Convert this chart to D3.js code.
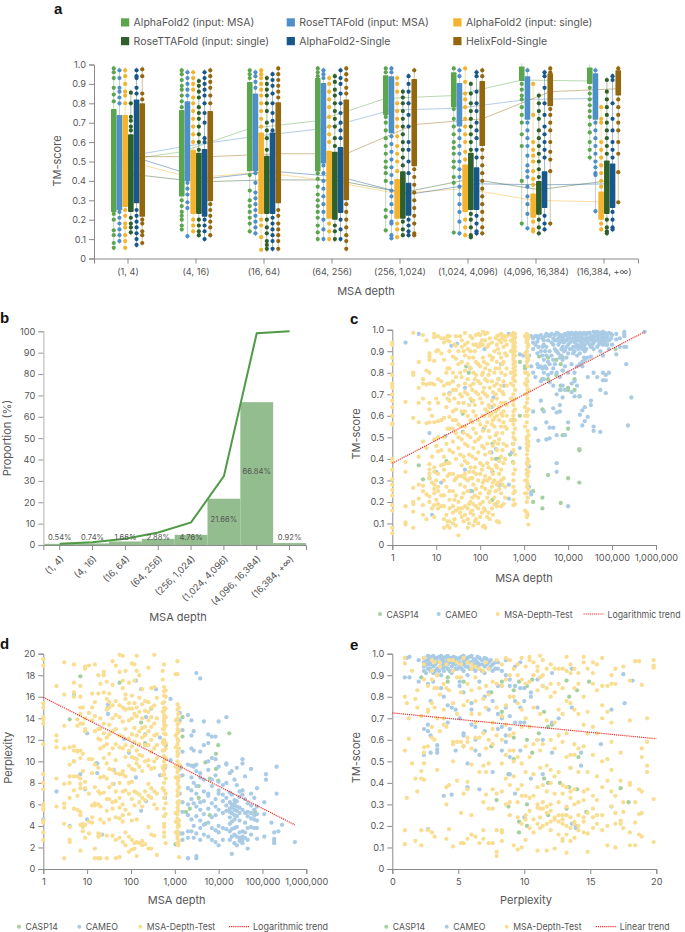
<!DOCTYPE html>
<html><head><meta charset="utf-8">
<script src="https://cdn.jsdelivr.net/npm/d3@7"></script>
<style>
html,body{margin:0;padding:0;background:#fff}
svg{display:block}
text{font-family:Inter,"Noto Sans",sans-serif;fill:#555}
.tick text{font-size:9.2px}
.title{font-size:11px}
.legend{font-size:9.6px}
.letter{font-family:"Liberation Sans",sans-serif;font-weight:700;font-size:15px;fill:#111}
</style></head><body><svg id="c" width="685" height="932"></svg>
<script>
// ---------- panel a ----------
const depthBins=["(1, 4)","(4, 16)","(16, 64)","(64, 256)","(256, 1,024)","(1,024, 4,096)","(4,096, 16,384)","(16,384, +∞)"];
const methods=["AlphaFold2 (input: MSA)","RoseTTAFold (input: MSA)","AlphaFold2 (input: single)","RoseTTAFold (input: single)","AlphaFold2-Single","HelixFold-Single"];
const methodColors=["#5ba54e","#4d8fca","#f4b32c","#2f5f2a","#16578c","#94670f"];
const q1=[[.24,.32,.45,.45,.74,.78,.915,.90],[.25,.40,.45,.49,.645,.68,.715,.715],[.265,.23,.23,.205,.205,.24,.21,.20],[.24,.23,.23,.20,.205,.25,.225,.23],[.285,.215,.23,.235,.22,.25,.26,.26],[.215,.295,.285,.30,.475,.58,.785,.84]];
const q3=[[.77,.765,.91,.93,.945,.96,.99,.985],[.74,.81,.85,.905,.94,.905,.94,.955],[.74,.56,.65,.555,.41,.485,.335,.345],[.64,.545,.53,.55,.45,.545,.40,.505],[.82,.565,.65,.575,.39,.47,.45,.49],[.80,.76,.805,.82,.925,.915,.955,.97]];
const means=[[.50,.55,.67,.71,.825,.84,.92,.915],[.52,.58,.63,.67,.765,.775,.82,.825],[.505,.415,.445,.40,.335,.36,.30,.292],[.435,.395,.405,.405,.34,.41,.355,.40],[.52,.41,.45,.42,.33,.385,.38,.385],[.525,.525,.54,.54,.69,.72,.86,.875]];
const dots0=[[.98,.96,.93,.88,.845,.81,.23,.2,.145,.12,.08,.055],[.97,.95,.92,.89,.87,.84,.81,.78,.3,.27,.24,.22,.2,.17,.15],[.97,.95,.93,.43,.35,.3,.27,.24,.21,.18,.14],[.98,.96,.94,.44,.41,.37,.33,.3,.27,.24,.21,.17,.135,.1],[.98,.96,.73,.7,.66,.62,.58,.54,.5,.47,.44,.4,.25,.215,.145],[.98,.77,.72,.68,.64,.6,.57,.54,.5,.47,.42,.39,.134],[.9,.87,.84,.82,.78,.74,.7,.64,.58,.4,.18],[.88,.85,.82,.79,.76,.73,.69,.65,.6,.56,.52]];
const dots1=[[.97,.93,.88,.86,.83,.8,.24,.21,.18,.15,.12,.09],[.96,.93,.9,.87,.84,.39,.36,.33,.29,.26,.115],[.96,.94,.91,.88,.44,.39,.34,.31,.28,.25,.22,.19,.16,.13],[.97,.95,.93,.48,.44,.4,.36,.32,.28,.24,.2,.15,.1],[.98,.96,.63,.59,.55,.51,.47,.43,.39,.35,.32,.28,.24,.19,.18,.12,.105],[.97,.94,.66,.62,.58,.54,.5,.46,.42,.37,.33,.28,.24,.19,.13],[.97,.7,.66,.62,.58,.53,.48,.45,.42,.37,.32,.28,.23,.156],[.97,.7,.66,.62,.58,.54,.5,.47,.44,.43,.244]];
const dots2=[[.97,.94,.9,.86,.84,.8,.25,.22,.18,.16,.12,.09,.055],[.96,.93,.9,.87,.83,.8,.76,.72,.68,.64,.6,.2,.17,.14],[.97,.95,.93,.9,.87,.84,.8,.76,.72,.68,.2,.17,.11,.045],[.93,.9,.86,.82,.78,.73,.68,.64,.6,.18,.14,.1],[.93,.9,.86,.8,.76,.72,.68,.63,.58,.54,.5,.45,.18,.15,.11],[.98,.91,.85,.82,.78,.72,.68,.64,.6,.55,.51,.2,.16,.12],[.9,.74,.6,.56,.53,.5,.45,.41,.38,.19,.15,.14],[.78,.72,.7,.6,.56,.52,.48,.44,.4,.37,.18,.15]];
const dots3=[[.855,.8,.73,.71,.68,.66,.21,.18,.16,.135],[.915,.89,.86,.83,.78,.75,.72,.68,.64,.6,.56,.2,.17,.14,.12],[.93,.9,.87,.84,.8,.76,.7,.66,.62,.56,.2,.16,.13,.09,.07,.05],[.94,.91,.87,.84,.8,.76,.72,.68,.62,.58,.17,.14,.1],[.86,.83,.8,.76,.72,.68,.64,.6,.56,.52,.48,.19,.15,.12],[.9,.85,.8,.76,.72,.68,.64,.6,.56,.23,.2,.16,.12,.11],[.84,.8,.76,.72,.66,.62,.58,.54,.5,.46,.42,.2,.16,.13],[.92,.86,.82,.78,.74,.7,.66,.62,.58,.54,.2,.16,.14,.13]];
const dots4=[[.97,.94,.93,.88,.85,.25,.22,.19,.16,.13,.1,.07],[.96,.93,.9,.87,.84,.8,.75,.7,.62,.6,.2,.17,.14,.1],[.95,.92,.89,.85,.8,.75,.71,.66,.21,.18,.15,.12,.09,.05],[.97,.93,.9,.85,.8,.75,.7,.66,.62,.2,.15,.1],[.94,.9,.86,.8,.74,.68,.6,.56,.5,.44,.2,.17,.14,.12],[.96,.94,.86,.8,.76,.7,.66,.62,.56,.52,.22,.18,.14,.13],[.96,.94,.88,.8,.74,.68,.64,.6,.56,.52,.22,.18,.15],[.94,.92,.8,.72,.66,.6,.56,.52,.24,.2,.16,.15]];
const dots5=[[.975,.94,.85,.82,.2,.18,.14,.12,.08],[.97,.94,.91,.88,.84,.8,.28,.25,.22,.19,.16,.12],[.98,.95,.92,.89,.86,.83,.25,.22,.18,.15,.12,.09,.05],[.98,.95,.92,.88,.85,.28,.24,.2,.16,.12,.09,.05],[.97,.46,.42,.38,.34,.3,.26,.22,.18,.13,.12],[.97,.94,.56,.52,.48,.44,.4,.36,.32,.28,.24,.2,.16,.13],[.98,.96,.77,.74,.7,.66,.6,.55,.51,.45,.18],[.98,.82,.78,.74,.7,.66,.6,.54,.445,.29]];
const allDots=[dots0,dots1,dots2,dots3,dots4,dots5];
// ---------- panel b ----------
const shares=[.54,.74,1.66,2.88,4.76,21.66,66.84,.92];
const cumulative=[.54,1.28,2.94,5.82,10.58,32.24,99.08,100];
// ---------- panel c: [depth,[TM-score...]] ----------
const cYellow=[[1,[.94,.93,.87,.84,.79,.75,.74,.73,.7,.67,.64,.6,.565,.56,.4,.385,.35,.305,.28,.255,.23,.185,.16,.08,.055]],[2,[.665,.385,.34,.18,.105,.095]],[3,[.985,.8,.79,.59,.265,.2,.19,.155,.08]],[4,[.85,.73,.66,.57,.41,.28,.215]],[5,[.975,.77,.75,.68,.48,.275,.25,.185,.14]],[6,[.95,.81,.745,.565,.45,.235,.12]],[7,[.89,.875,.86,.8,.75,.66,.63,.57,.375,.35,.33,.31,.225,.2]],[8,[.75,.6,.41,.29,.17]],[9,[.98,.965,.855,.745,.57,.49,.36,.34,.28,.26,.24,.185,.13]],[11,[.97,.905,.77,.66,.575,.5,.435,.33,.27,.25,.19,.17]],[13,[.96,.89,.76,.58,.44,.37,.23,.18]],[15,[.96,.94,.86,.74,.7,.59,.5,.41,.375,.35,.3,.23,.18,.12,.08]],[18,[.97,.95,.82,.75,.68,.54,.38,.32,.11,.09]],[20,[.97,.945,.9,.82,.75,.7,.67,.595,.54,.44,.38,.33,.25,.21,.17,.11,.08]],[24,[.875,.8,.76,.72,.62,.58,.54,.48,.43,.33,.25,.18,.15,.1]],[28,[.97,.925,.865,.78,.72,.63,.58,.52,.4,.31,.23,.16,.09]],[32,[.9,.84,.74,.66,.56,.5,.45,.32,.2,.17,.045]],[38,[.95,.92,.85,.78,.69,.62,.55,.49,.37,.32,.22,.17,.13]],[45,[.985,.93,.88,.81,.75,.71,.62,.55,.47,.39,.33,.31,.27,.18,.14]],[52,[.94,.91,.84,.77,.7,.6,.51,.46,.38,.3,.25,.17,.12,.08]],[60,[.97,.9,.82,.74,.68,.58,.5,.36,.31,.2,.15]],[70,[.93,.87,.8,.75,.67,.62,.54,.45,.34,.28,.19,.14,.09]],[80,[.975,.93,.85,.79,.71,.6,.52,.4,.33,.26,.18,.12]],[90,[.98,.92,.84,.76,.7,.58,.49,.43,.3,.22,.17,.1]],[100,[.975,.935,.925,.83,.75,.68,.56,.5,.38,.33,.24,.19,.13]],[115,[.99,.93,.87,.8,.71,.6,.53,.37,.29,.2,.085]],[130,[.98,.95,.82,.77,.7,.63,.55,.42,.32,.26,.16,.08]],[145,[.985,.92,.84,.76,.69,.62,.57,.47,.38,.3,.22,.13]],[165,[.96,.88,.81,.73,.64,.6,.5,.43,.31,.25,.2,.12]],[185,[.94,.86,.76,.67,.61,.56,.4,.35,.27,.17]],[210,[.9,.8,.74,.65,.59,.55,.48,.3,.22,.19]],[240,[.97,.93,.85,.75,.68,.6,.52,.44,.36,.28,.18,.11]],[270,[.975,.95,.89,.82,.72,.64,.58,.49,.39,.33,.26,.105]],[300,[.98,.94,.87,.8,.74,.66,.61,.55,.41,.35,.3,.24,.18]],[340,[.97,.92,.85,.76,.7,.62,.57,.47,.38,.31,.19]],[400,[.97,.93,.88,.82,.74,.65,.6,.54,.46]],[500,[.975,.95,.9,.8,.75,.68,.58]],[570,[.985,.975,.96,.95,.94,.93,.92,.91,.9,.885,.87,.86,.84,.82,.8,.78,.77,.74,.7,.67,.65,.62,.6,.56,.52,.5,.47,.44,.38,.33,.3,.27,.24,.21,.185]],[620,[.98,.965,.94,.92,.9,.88,.85,.83,.81,.79,.76,.72,.68,.63,.58,.54,.49,.42,.35,.25,.19]],[1050,[.97,.89,.8,.75,.7,.64,.6,.55,.3,.24,.16]],[1150,[.98,.97,.96,.95,.94,.9,.87,.85,.8,.77,.74,.7,.66,.62,.57,.5,.49,.47,.45,.42,.38,.35,.33,.3,.27,.24,.2,.15,.13]],[1200,[.975,.955,.92,.88,.83,.76,.72,.68,.6,.53,.44,.4,.37,.32,.285,.22,.14]],[1250,[.965,.93,.86,.79,.72,.63,.51,.48,.46,.39,.34,.26,.095]],[10,[.9,.68,.46,.3,.21]],[17,[.8,.64,.47,.27,.14]],[26,[.93,.68,.3,.21,.12]],[35,[.97,.8,.7,.42,.28,.15]],[42,[.9,.66,.52,.41,.24,.11]],[56,[.87,.65,.42,.34,.19,.1]],[66,[.96,.72,.57,.41,.31,.22,.16]],[76,[.9,.77,.65,.48,.36,.23,.11]],[110,[.95,.79,.66,.46,.35,.27,.15]],[122,[.85,.73,.6,.45,.3,.17,.09]],[155,[.93,.79,.65,.53,.36,.24,.15]],[195,[.87,.71,.58,.46,.33,.29,.14]],[225,[.96,.82,.7,.62,.51,.37,.25]],[255,[.91,.77,.63,.47,.29,.2,.11]],[320,[.96,.84,.71,.6,.52,.44,.28]],[370,[.95,.89,.79,.66,.55,.4,.27,.22]]];
const cBlue=[[2,[.94]],[4,[.98]],[7,[.52]],[8,[.14]],[10,[.34]],[13,[.29]],[16,[.505]],[20,[.705]],[22,[.925]],[30,[.935]],[45,[.73,.35]],[60,[.82,.25]],[120,[.54]],[125,[.91]],[180,[.64,.43]],[200,[.685]],[230,[.445,.19]],[260,[.77]],[300,[.84,.28]],[350,[.74]],[450,[.98,.28,.215]],[520,[.43,.68]],[600,[.96]],[800,[.45,.885]],[950,[.88]],[1300,[.88,.365,.27]],[1450,[.235,.245,.83,.97]],[1600,[.96,.94,.91,.8,.62]],[1800,[.97,.93,.78,.54]],[2100,[.96,.92,.825,.485]],[2400,[.975,.9,.83,.76,.67]],[2800,[.95,.93,.86,.8,.62,.77]],[3200,[.98,.92,.88,.82,.57,.49]],[3800,[.97,.9,.84,.755,.545,.495]],[4600,[.96,.93,.86,.82,.74,.635,.545]],[5500,[.985,.95,.9,.8,.7,.615,.51,.38,.34]],[6500,[.97,.94,.87,.78,.72,.65,.62]],[7500,[.96,.92,.86,.81,.74,.685]],[8500,[.98,.95,.905,.83,.72,.51]],[10000,[.985,.96,.93,.89,.8,.57,.18]],[12000,[.985,.95,.91,.84,.71,.75]],[14000,[.97,.94,.9,.8,.76,.69]],[16000,[.98,.96,.93,.88,.83,.74]],[18500,[.985,.97,.95,.92,.89,.84,.605,.69]],[21000,[.98,.96,.94,.91,.85,.83,.625,.555]],[24000,[.98,.95,.93,.9,.86,.64,.575]],[28000,[.985,.96,.94,.87,.78,.595]],[33000,[.97,.95,.92,.875,.67,.65]],[38000,[.99,.96,.94,.91,.8,.55,.53]],[46000,[.99,.97,.95,.92,.78]],[54000,[.985,.96,.94,.9,.525,.72]],[62000,[.99,.97,.95,.93,.88,.8,.765]],[72000,[.98,.96,.93,.79,.765,.705]],[85000,[.985,.95,.91,.8]],[100000,[.975,.93]],[125000,[.98,.955,.885]],[150000,[.96,.92]],[190000,[.99,.98,.97,.92]],[210000,[.84,.92]],[230000,[.555]],[275000,[.685]],[550000,[.99]],[2000,[.97,.945,.89,.84]],[2600,[.96,.92,.88,.82]],[3000,[.97,.9,.83]],[3500,[.975,.95,.85,.79]],[4200,[.98,.94,.88,.8]],[5000,[.975,.95,.91,.84]],[6000,[.98,.96,.93,.89]],[7000,[.975,.95,.91,.88]],[8000,[.97,.94,.9]],[9200,[.975,.95,.92,.87]],[11000,[.975,.96,.94,.91]],[13000,[.98,.96,.92,.89]],[15000,[.985,.97,.95,.92]],[17000,[.97,.95,.91]],[20000,[.975,.96,.94,.93]],[23000,[.985,.96,.92,.87]],[26000,[.975,.95,.91]],[31000,[.985,.96,.93]],[36000,[.97,.95,.93]],[42000,[.985,.97,.95]],[50000,[.98,.96,.93]],[58000,[.975,.95]],[68000,[.985,.96,.94]],[78000,[.97,.95,.93]],[95000,[.98,.96]]];
const cGreen=[[4,[.37]],[5,[.305]],[7,[.31]],[17,[.39]],[40,[.61,.525]],[48,[.83]],[55,[.8]],[65,[.25,.67]],[190,[.34,.21,.47]],[230,[.4]],[260,[.4,.28]],[480,[.42]],[560,[.385,.58,.47]],[800,[.6,.85]],[1050,[.82,.83]],[1600,[.2,.25]],[2200,[.875]],[2600,[.63,.77,.22,.17]],[3500,[.975,.77,.325,.87]],[5400,[.9,.79,.86]],[6800,[.74,.72,.195,.84]],[7500,[.81,.87,.51]],[10000,[.72,.73,.31,.54]],[14000,[.77,.72]],[18000,[.445,.44,.69,.29]],[120000,[.91]]];
const cTrend=[[1,.38],[550000,.99]];
// ---------- panel d: [depth,[perplexity...]] ----------
const dYellow=[[1,[19.5,18.9,15.4,15,14.1,13.9,13.5,11.6,8.8,8,7.4,6,5.7,5.5,4.5,4.3,3.4,2.7]],[2,[17,12.4,11.9,11.3,8.4,5.8]],[3,[19.2,16.2,13.3,11.2,7.9,6.1,5.7,4.2,1]],[4,[11.3,9.7,8.6,8,6.6,3.9,2.7,2.5]],[5,[19,17.3,16.4,16,11.4,11,10,8.6,7.3,5.6]],[6,[13.9,13.3,11,10.9,8.6,6.8,5.5]],[7,[17,16,15,14.4,13.5,11,10.3,8.4,7.9,7.5,5,5.3,1.7,4.1]],[8,[15,13.5,10.7,9.1,4.2,3.9,3.5]],[9,[18.8,18.6,14,13,12.8,8.1,7.5,4.1,2.9]],[11,[18.9,14.5,10.2,7,4.4,3.3]],[13,[16.3,15,13.8,10.2,8.9,5.9,4.8,4.3]],[15,[19,15.5,14.2,12.8,9.7,7.6,6.1,5.9,1.9,1]],[18,[18,16.3,13,12.1,9.4,7.2,6,3.3,3,1]],[20,[17.2,14,13,12,11.2,8.5,7,5.8,4.6,3.2,1]],[24,[18.3,18,16.4,13.5,12.6,11.4,10.3,8.6,7.1,4.3]],[28,[17.4,15.8,14.8,12.2,11.6,9.8,8.4,6.5,5.4,3.1,1]],[32,[16.3,15.5,15,13.4,12.5,10.7,9.3,7.6,6.5,4.6]],[38,[19.3,17.1,15.2,14,12.8,11.2,9.2,7.9,6.2,5.6,3.1]],[45,[18.9,15.6,14.3,13,11.6,10.1,8.9,7.2,6.3,4.8,2.7,1]],[55,[19.9,18.3,15.2,14.1,12.4,11.3,8.8,8,6.6,5.7,4.7,2.9,1.1]],[65,[19.8,17.5,16.8,15,13.7,12.3,11.2,9.1,8.8,7.2,6,5,4.4,2.5]],[75,[18.4,16.2,15.8,14.8,13,11.5,10.4,8.6,7.3,5.5,3.4,2.2]],[90,[17.3,15.4,14.9,13.8,12.1,11,9.6,8,7,5.1,3,1.6]],[105,[19.1,16.1,14.9,14,12.5,11.4,10.4,9.3,8.1,6.5,4.5,2.7,1.8]],[120,[19,17.5,15.4,14.4,13.1,11.8,10.3,9.2,7.2,5.9,2.4,1.9]],[135,[19.8,18.4,15,14.2,12.4,11,10.2,9.8,7.1,4.6,2.5,1.2]],[155,[18,15.9,14.6,12.8,11.6,10.6,9.5,6.9,6.2,2.4]],[180,[16.7,15.3,14,13.1,12.2,10.5,9.1,6.6,5.8,2.6,2.2]],[210,[15.6,14.7,13.2,12.4,11.5,10,7.2,6.4,2.3]],[250,[18.7,15.5,14.6,13.8,12.8,11.5,10.1,9.6,7.9,6.8,3.9,1.9]],[290,[16.8,15,14.1,13.2,12,10.9,9.3,7.5,6.6,3.2,1.9]],[340,[19.9,16.9,15.2,13.5,12.4,11.2,10,9.4,7.2,6,3.1]],[390,[15.9,14,12.5,11.5,10.3,7,5.6,1.3]],[530,[18.4,17.6,15.4,14.6,13,11.8,11,9.4,8.7,7.5]],[570,[19,16.9,16.5,16.1,15.5,15,14.7,14.3,14,13.7,13.4,13,12.6,12,11.6,11,10.5,10,9.6,9.2,8.8,8,7.3,6.6,5.6,4.9,4.2,3.9,3.4,3]],[620,[16.6,16,14.9,14.1,13.3,12.5,11.7,11.2,10.3,9.6,8.4,7,6.1,5.1,2.4]],[1050,[18.1,13.8,12.4,11.3,9.5,8.5,5.2,4.4,3.4]],[1150,[19.3,18.1,15.3,14.8,14,13.4,13,12.6,12.1,11.6,10.9,10.5,10,9.5,9,8.4,7.9,7.3,6.8,6.2,5.7,5.1,4.7,4.3,3.9,3.5,3.1,2.8,2.4]],[1200,[14.4,12.9,11.9,10.7,9.2,8.2,7,6,5.4,4.2,3.3,2.2]],[1250,[15,13.6,12.8,11.2,9.7,8.6,7.6,6.3,4.5,4,2.6,1.1]]];
const dBlue=[[1,[4.6]],[2,[7.2]],[4,[4]],[5,[16.2]],[7,[8.8]],[9,[7.4]],[10,[4.6,12.6]],[17,[8.9,9.8]],[22,[3.2]],[30,[14.4,15.3]],[40,[9.2,7.9]],[70,[12.1]],[90,[10.8]],[130,[17.5,8.5]],[170,[16.7,5.4]],[220,[14.1,6.3]],[370,[16.7]],[460,[12.2,8.7]],[600,[9.4,6.6]],[800,[15.8,10.1]],[1300,[14.5,13.8,9.3,8.6,7,3.3]],[1500,[12.9,10.9,8.7,6.2,5.3,3.3,2.7]],[2000,[14.3,9.7,7.5,6,5,3.5,2.9,1]],[2400,[13.8,12.4,11.2,9.6,8.5,7.3,6.5,4.6,3.5]],[2700,[12.8,11,9.5,8,6.1,4,2.9]],[3100,[18.2,9.7,9.1,7.7,7,5.8,4.9,3.3,1.2,1]],[3800,[17.7,10.9,8.9,8.5,6.2,5.5,4.5,3.8,2.7]],[4600,[13.7,11.5,8.3,7.2,6.3,5.1,4.1,3.2]],[5800,[12.5,11.7,10,9.2,7,6.8,5.6,4.3,3]],[7000,[12.3,10.3,8.3,7.7,6.1,4.8,3.8,2.7]],[8500,[12.3,10.2,8.7,6.5,5.8,5,3.6,2.5]],[10000,[13.7,9.5,8.1,7.3,7,5.5,4,2.2,3.4]],[12500,[7.8,6.9,6.3,5.2,3.8,2.7]],[15000,[14.1,9.8,9.7,8,6.6,5.9,5.4,3.7]],[18000,[8.9,7.1,6.2,5.6,5.3,4.8,4.2,3.5,2.7]],[20000,[9.1,6.9,6,5.7,5.2,4.4,3.7,3,1.4]],[23000,[8.3,6.4,6.1,5.9,5.5,5,4.6,3.8,3.2,2.4]],[26000,[9.4,7.8,6.3,5.8,5.4,4.9,3.9,3,2.2]],[30000,[7.2,6.7,5.7,5.2,4.5,3.4,2.9,2.6]],[35000,[10.2,9.8,7.3,6.9,5.5,3.5,3,2.7,2.4]],[40000,[8.6,6.5,5.2,4.3,3.4,2.9]],[46000,[6.1,5.3,4.9,3.8,2.7,1.9]],[55000,[9.3,7,5.9,5.2,4.7,3.9,3.2]],[65000,[6.6,5.5,5,4.6,3.8]],[75000,[7.5,5.8,5.1,4.5,3.8,2.8]],[110000,[6.2,5.1,3]],[120000,[8.8,8.3]],[160000,[4.3]],[185000,[2.8,2.6,2.4,3.4]],[210000,[9.5,7]],[230000,[3.5]],[280000,[4.1]],[550000,[2.5]]];
const dGreen=[[4,[13.9]],[5,[10]],[7,[17.9]],[16,[9.8]],[30,[15]],[40,[9.2]],[55,[17.3]],[170,[13.6]],[210,[12.5,11.7]],[290,[14.9]],[620,[11.5,10.2]],[1050,[2.3]],[1350,[9.5]],[1500,[14.1,12.3]],[1800,[5.3]],[2200,[5.6]],[2800,[9.6]],[3500,[7.7,6.6]],[5000,[9.9,4.2]],[6300,[8.4,5]],[8700,[9.3,10.7]],[9800,[11.5,8.2]],[17500,[12.6]],[68000,[5.3]]];
const dTrend=[[1,15.95],[550000,4.1]];
// ---------- panel e: [perplexity,[TM-score...]] ----------
const eYellow=[[.95,[.98,.955,.8,.55,.18,.115]],[1.1,[.77,.33]],[1.25,[.7,.605]],[1.5,[.92,.49]],[1.75,[.42,.79,.13]],[1.9,[.83,.36,.75]],[2.2,[.71,.455,.42,.11,.18]],[2.4,[.98,.95,.88,.565,.49,.415,.54]],[2.7,[.85,.74,.73,.57,.18]],[3,[.97,.92,.88,.77,.66,.61,.17]],[3.2,[.96,.84,.75,.6,.15]],[3.4,[.9,.84,.7,.46]],[3.6,[.96,.94,.64,.81]],[3.9,[.74,.7,.67,.86]],[4.1,[.95,.84,.66,.38,.3,.14]],[4.3,[.97,.83,.39,.185]],[4.6,[.97,.92,.77,.59,.58,.5,.105]],[4.9,[.96,.89,.72,.59,.41]],[5.2,[.95,.89,.82,.59,.26,.12]],[5.4,[.98,.76,.57,.35,.12]],[5.7,[.96,.86,.78,.61,.59,.405,.37,.14]],[6,[.95,.93,.83,.72,.56,.485,.25,.16]],[6.3,[.94,.89,.78,.68,.61,.15]],[6.6,[.93,.84,.72,.61,.45,.12]],[6.9,[.92,.79,.63,.48,.31,.14,.18]],[7.1,[.96,.85,.75,.56,.45,.345]],[7.3,[.93,.81,.6,.49,.28,.12]],[7.6,[.87,.68,.65,.58,.37,.28,.12]],[7.9,[.97,.86,.75,.62,.35,.18,.08,.06]],[8.3,[.95,.85,.71,.6,.49,.36,.18,.17,.13]],[8.6,[.98,.88,.76,.67,.53,.42,.3]],[8.9,[.97,.9,.8,.62,.55,.39,.31,.25]],[9.2,[.93,.8,.63,.55,.5,.43,.11]],[9.5,[.95,.9,.77,.52,.37,.31,.24,.09]],[9.8,[.98,.88,.74,.66,.49,.39,.34,.21,.1]],[10.1,[.94,.86,.7,.57,.45,.34,.25,.23,.135]],[10.4,[.985,.97,.87,.66,.52,.33,.27,.19]],[10.7,[.96,.9,.75,.58,.44,.34,.23,.17]],[11,[.94,.92,.83,.6,.38,.3,.285,.21,.085]],[11.2,[.99,.89,.72,.55,.47,.28,.24,.19]],[11.4,[.97,.9,.85,.58,.39,.31,.28,.2]],[11.7,[.93,.84,.69,.48,.36,.29,.26,.21,.085]],[12,[.95,.86,.8,.6,.46,.4,.3,.27,.22,.18]],[12.3,[.93,.82,.68,.56,.43,.35,.24,.23,.095]],[12.6,[.93,.86,.74,.62,.45,.31,.25,.22,.16]],[12.9,[.93,.84,.72,.59,.39,.35,.25,.23,.21,.14,.13]],[13.2,[.985,.92,.78,.63,.52,.38,.29,.25,.2,.16,.075]],[13.5,[.95,.91,.77,.53,.47,.36,.33,.24,.19,.13]],[13.8,[.93,.84,.74,.58,.53,.37,.3,.22,.21,.145]],[14.1,[.91,.86,.72,.56,.45,.31,.25,.2,.18]],[14.5,[.985,.96,.8,.67,.57,.36,.32,.24,.22,.17]],[14.8,[.93,.73,.63,.45,.37,.26,.08,.165]],[15.2,[.96,.91,.86,.66,.53,.34,.28,.24,.19]],[15.5,[.95,.83,.63,.43,.32,.25,.21]],[15.9,[.98,.85,.76,.7,.5,.38,.25,.18]],[16.3,[.85,.73,.51,.41,.2,.11]],[16.6,[.9,.86,.68,.59,.46,.36,.29]],[16.9,[.93,.86,.34,.26,.21,.1]],[17.3,[.54,.41,.225,.21]],[17.5,[.94,.31,.265,.19]],[18,[.875,.69,.4,.39,.17,.11]],[18.4,[.965,.31,.215,.11]],[18.7,[.965,.37,.255,.16]],[18.9,[.855,.56,.52,.36,.26,.15]],[19.3,[.59,.48,.45,.7]],[19.8,[.97,.945,.935,.325,.125]]];
const eBlue=[[.95,[.89]],[1.1,[.98]],[1.3,[.89,.985]],[2,[.97,.87]],[2.4,[.98,.96,.94,.92,.65,.53]],[2.7,[.99,.97,.95,.93,.86,.64,.67,.185]],[2.9,[.98,.95,.92,.78,.62,.54]],[3.1,[.99,.97,.94,.91,.87]],[3.4,[.98,.96,.93,.9,.575,.555,.54]],[3.7,[.99,.97,.94,.9,.84]],[3.9,[.98,.96,.92,.8,.34]],[4.2,[.99,.97,.95,.93,.68,.76]],[4.5,[.98,.96,.94,.91,.75,.345]],[4.8,[.98,.96,.95,.93,.55,.74]],[5.1,[.98,.96,.94,.87,.85,.7]],[5.4,[.99,.97,.95,.92,.82,.63,.62]],[5.7,[.98,.96,.94,.9,.49,.38]],[6,[.99,.96,.93,.77,.74,.67]],[6.3,[.97,.95,.92,.6,.66,.55]],[6.6,[.98,.95,.93,.87,.37,.53]],[7,[.98,.94,.91,.8,.64]],[7.3,[.96,.93,.82,.74]],[7.6,[.95,.92,.45,.78]],[8,[.96,.93,.85,.72,.65]],[8.3,[.92,.85,.7,.55,.66]],[8.6,[.97,.9,.75,.62,.59]],[8.9,[.88,.85,.71,.65,.44,.52]],[9.3,[.94,.85,.78,.68,.35]],[9.7,[.96,.84,.75,.68,.55]],[10,[.84,.78,.68,.24]],[10.5,[.8,.82,.42]],[11,[.88,.75,.6]],[11.4,[.85,.6,.44]],[12.1,[.91,.68,.54]],[12.6,[.7]],[13.6,[.75,.93,.21]],[13.9,[.19,.2]],[14.3,[.48,.54]],[15.8,[.58]],[16.6,[.74,.29]],[17.5,[.905]],[17.6,[.77]],[18.2,[.875]],[2.55,[.97,.95,.91]],[2.85,[.985,.96,.93]],[3.25,[.98,.95,.92]],[3.55,[.985,.96,.92]],[3.85,[.975,.95,.93]],[4.05,[.985,.96,.94]],[4.35,[.98,.96,.92]],[4.65,[.985,.97,.95]],[4.95,[.975,.96,.93]],[5.25,[.985,.95,.93]],[5.55,[.975,.96,.94]],[5.85,[.985,.96,.93]],[6.15,[.975,.95,.93]],[6.45,[.985,.96,.94]],[6.8,[.97,.95,.92]],[7.15,[.975,.95]],[7.45,[.97,.94]],[7.8,[.96,.93]]];
const eGreen=[[2.2,[.89]],[4.2,[.89,.87]],[5.4,[.87,.57]],[7.5,[.57,.82]],[7.9,[.32]],[8.3,[.87,.73]],[8.8,[.29,.44]],[9.2,[.61,.51,.83]],[9.6,[.87,.22,.17]],[10.2,[.6,.85,.3,.2]],[10.6,[.88,.54]],[11.1,[.63]],[11.5,[.73,.42]],[11.8,[.66,.4,.25]],[12.1,[.67]],[12.7,[.4]],[13.2,[.875,.28]],[13.4,[.8,.38]],[13.5,[.47]],[14,[.83,.37]],[14.1,[.52]],[14.7,[.265]],[14.9,[.87]],[17.3,[.375]],[17.9,[.31]]];
const eTrend=[[0,.725],[20,.605]];

const depthTicks=[1,10,100,1000,10000,100000,1000000];
const scatterColors={green:"#a5d1a1",blue:"#a9cbe6",yellow:"#f9de92"};
const trendColor="#ef2f2b";
const scatterNames=["CASP14","CAMEO","MSA-Depth-Test"];
const legendWidths=[32.3,32.3,68.3];
const flat=cols=>cols.flatMap(([x,ys])=>ys.map(y=>[x,y]));

const svg=d3.select("#c");
function styleAxis(g,color){g.selectAll(".domain").attr("stroke",color||"#8a8a8a").attr("stroke-width",1);
 g.selectAll(".tick line").attr("stroke",color||"#8a8a8a");g.selectAll(".tick text").attr("fill","#555");return g;}
function label(x,y,t,rot,cls){const s=svg.append("text").attr("class",cls||"title").attr("text-anchor","middle").attr("x",x).attr("y",y).text(t);
 if(rot)s.attr("transform",`rotate(${rot},${x},${y})`);return s;}
[["a",54,14],["b",0,323],["c",350,324],["d",0,649],["e",350,650]].forEach(([t,x,y])=>svg.append("text").attr("class","letter").attr("x",x).attr("y",y).text(t));

// ---- a ----
(function(){
 const x=d3.scaleBand().domain(depthBins).range([94,638]);
 const y=d3.scaleLinear().domain([0,1]).range([258.5,64.5]);
 const step=5.7,w=5.6;
 const cx=(s,c)=>x(depthBins[c])+x.bandwidth()/2+(s-2.5)*step;
 const gx=svg.append("g").attr("transform","translate(0,258.5)").call(d3.axisBottom(x).tickSize(5).tickPadding(5));
 styleAxis(gx);
 const gy=svg.append("g").attr("transform","translate(94,0)").call(d3.axisLeft(y).tickValues(d3.range(0,1.01,.1)).tickFormat(v=>v===0?"0":d3.format(".1f")(v)).tickSize(5).tickPadding(3));
 styleAxis(gy);
 methods.forEach((m,s)=>{
  const line=d3.line().x((d,c)=>cx(s,c)).y(d=>y(d));
  svg.append("path").attr("d",line(means[s])).attr("fill","none").attr("stroke",methodColors[s]).attr("stroke-width",.8).attr("stroke-opacity",.55);
 });
 methods.forEach((m,s)=>depthBins.forEach((b,c)=>{
  const vals=allDots[s][c],col=methodColors[s];
  const e=d3.extent(vals.concat([q1[s][c],q3[s][c]]));
  svg.append("line").attr("x1",cx(s,c)).attr("x2",cx(s,c)).attr("y1",y(e[0])+3).attr("y2",y(e[1])-3).attr("stroke",col).attr("stroke-width",.7).attr("stroke-opacity",.6);
  svg.selectAll(null).data(vals).join("circle").attr("cx",cx(s,c)).attr("cy",d=>y(d)).attr("r",2.1).attr("fill",col);
  svg.append("rect").attr("x",cx(s,c)-w/2).attr("width",w).attr("y",y(q3[s][c])).attr("height",y(q1[s][c])-y(q3[s][c])).attr("fill",col).attr("rx",.8);
 }));
 const lx=[121,286.7,453.3],ly=[22.3,41];
 methods.forEach((m,i)=>{const px=lx[i%3],py=ly[i>2?1:0];
  svg.append("rect").attr("x",px).attr("y",py-4).attr("width",8.2).attr("height",8.2).attr("fill",methodColors[i]);
  svg.append("text").attr("x",px+12.6).attr("y",py+4).style("font-size","10.5px").text(m);
 });
 label(366,295,"MSA depth");
 label(61,161,"TM-score",-90);
})();

// ---- b ----
(function(){
 const x=d3.scaleBand().domain(depthBins).range([43.3,306]);
 const y=d3.scaleLinear().domain([0,100]).range([545,331.3]);
 svg.selectAll(null).data(shares).join("rect").attr("x",(d,i)=>x(depthBins[i])).attr("width",x.bandwidth()).attr("y",d=>y(d)).attr("height",d=>545-y(d)).attr("fill","#93bd8f");
 const gy=svg.append("g").attr("transform","translate(43.3,0)").call(d3.axisLeft(y).tickValues(d3.range(0,101,10)).tickSize(5).tickPadding(3));
 styleAxis(gy,"#cfcfcf");gy.select(".domain").attr("stroke-width",1.6);gy.selectAll(".tick line").attr("stroke","#999");
 const gx=svg.append("g").attr("transform","translate(0,545)").call(d3.axisBottom(x).tickSize(5).tickPadding(4));
 styleAxis(gx);
 gx.selectAll(".tick text").attr("text-anchor","end").attr("dx","0").attr("dy","0.2em").attr("transform","translate(-3,7) rotate(-45)");
 svg.append("path").attr("d",d3.line().x((d,i)=>x(depthBins[i])+x.bandwidth()/2).y(d=>y(d))(cumulative)).attr("fill","none").attr("stroke","#4f9a45").attr("stroke-width",2);
 svg.selectAll(null).data(shares).join("text").attr("text-anchor","middle").style("font-size","7.6px")
  .attr("x",(d,i)=>x(depthBins[i])+x.bandwidth()/2).attr("y",d=>y(Math.max(d/2,2.4))).text(d=>d.toFixed(2)+"%").attr("fill","#444");
 label(178,621,"MSA depth");
 label(10.5,438,"Proportion (%)",-90);
})();

function scatter(o){
 const x=o.xLog?d3.scaleLog().domain([1,1e6]).range([o.l,o.r]):d3.scaleLinear().domain([0,20]).range([o.l,o.r]);
 const y=d3.scaleLinear().domain(o.yDomain).range([o.b,o.t]);
 const ax=d3.axisBottom(x).tickSize(5).tickPadding(4);
 if(o.xLog)ax.tickValues(depthTicks).tickFormat(d3.format(","));else ax.tickValues([0,5,10,15,20]);
 const gx=svg.append("g").attr("transform",`translate(0,${o.b})`).call(ax);styleAxis(gx);
 const ay=d3.axisLeft(y).tickSize(5).tickPadding(3);
 ay.tickValues(o.yTicks).tickFormat(o.yFmt);
 const gy=svg.append("g").attr("transform",`translate(${o.l},0)`).call(ay);styleAxis(gy);
 [[o.green,"green"],[o.blue,"blue"],[o.yellow,"yellow"]].forEach(([cols,c])=>{
  svg.selectAll(null).data(flat(cols)).join("circle").attr("cx",d=>x(d[0])).attr("cy",d=>y(d[1])).attr("r",2.15).attr("fill",scatterColors[c]);
 });
 svg.append("path").attr("d",d3.line().x(d=>x(d[0])).y(d=>y(d[1]))(o.trend)).attr("fill","none").attr("stroke",trendColor).attr("stroke-width",1.2).attr("stroke-dasharray","1.2 .9");
 label(o.xt[0],o.xt[1],o.xTitle);label(o.yt[0],o.yt[1],o.yTitle,-90);
 const cs=["green","blue","yellow"];
 scatterNames.forEach((n,i)=>{svg.append("circle").attr("cx",o.leg[i]).attr("cy",o.legY).attr("r",2).attr("fill",scatterColors[cs[i]]);
  svg.append("text").attr("class","legend").attr("x",o.leg[i]+6.5).attr("y",o.legY+3.5).attr("textLength",legendWidths[i]).attr("lengthAdjust","spacingAndGlyphs").text(n);});
 svg.append("line").attr("x1",o.leg[3]).attr("x2",o.leg[3]+20).attr("y1",o.legY).attr("y2",o.legY).attr("stroke",trendColor).attr("stroke-width",1.2).attr("stroke-dasharray","1.2 .9");
 svg.append("text").attr("class","legend").attr("x",o.leg[3]+24).attr("y",o.legY+3.5).attr("textLength",o.trendW).attr("lengthAdjust","spacingAndGlyphs").text(o.trendName);
}
const tmTicks=d3.range(0,1.01,.1),tmFmt=v=>v===0?"0":d3.format(".1f")(v);
scatter({xLog:true,l:392.3,r:656,t:329.7,b:545,yDomain:[0,1],yTicks:tmTicks,yFmt:tmFmt,green:cGreen,blue:cBlue,yellow:cYellow,trend:cTrend,xTitle:"MSA depth",yTitle:"TM-score",xt:[524,582],yt:[360,434],leg:[380,438.7,497.7,583.5],legY:614,trendName:"Logarithmic trend",trendW:73});
scatter({xLog:true,l:43.3,r:306.3,t:653.7,b:869,yDomain:[0,20],yTicks:d3.range(0,21,2),yFmt:d3.format("d"),green:dGreen,blue:dBlue,yellow:dYellow,trend:dTrend,xTitle:"MSA depth",yTitle:"Perplexity",xt:[176.7,904],yt:[12,757.7],leg:[19,79.3,140.3,229],legY:926.7,trendName:"Logarithmic trend",trendW:75});
scatter({xLog:false,l:392.3,r:656.3,t:653.7,b:869,yDomain:[0,1],yTicks:tmTicks,yFmt:tmFmt,green:eGreen,blue:eBlue,yellow:eYellow,trend:eTrend,xTitle:"Perplexity",yTitle:"TM-score",xt:[526,904],yt:[360,757.7],leg:[386.3,446.7,506.7,595.7],legY:926.7,trendName:"Linear trend",trendW:50});
</script></body></html>
